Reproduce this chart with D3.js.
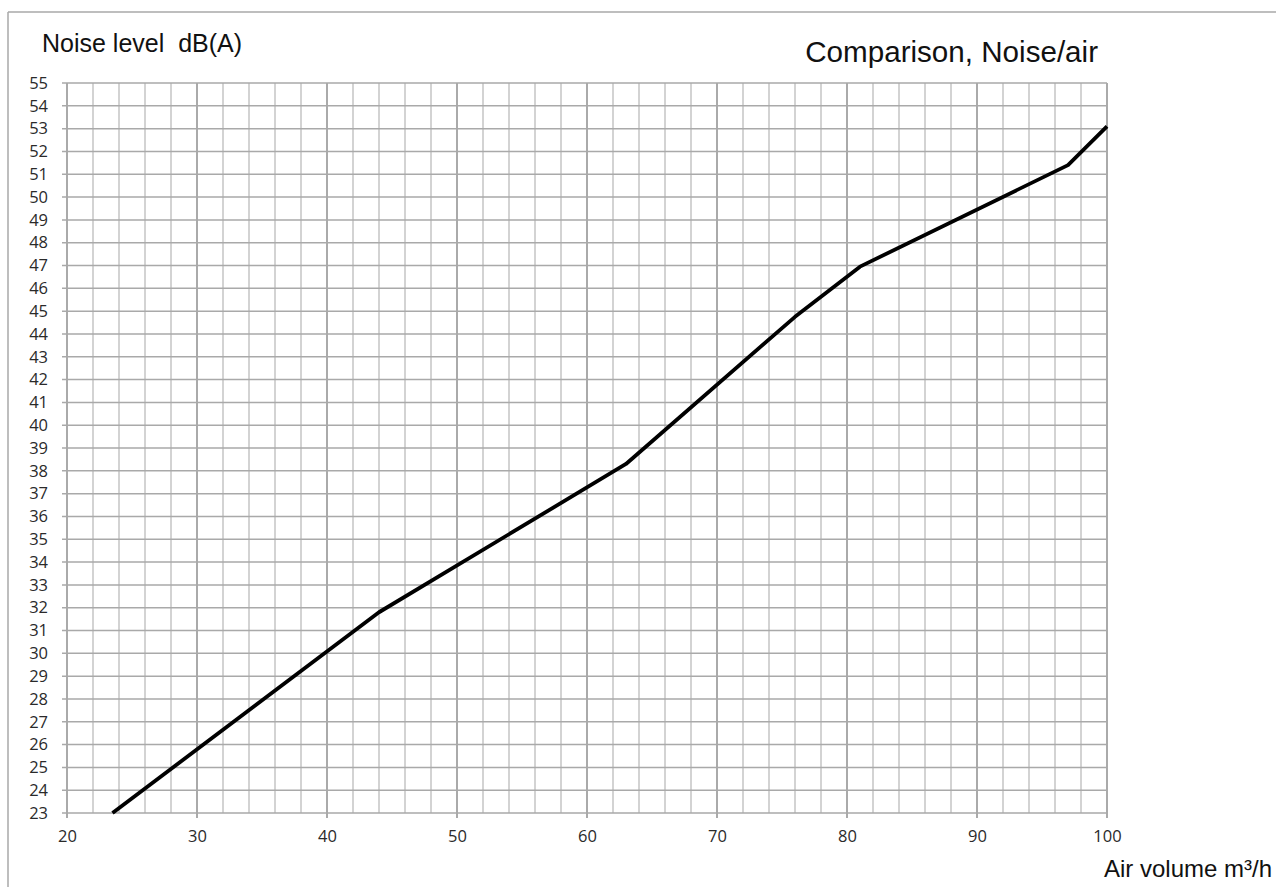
<!DOCTYPE html>
<html>
<head>
<meta charset="utf-8">
<script src="https://cdn.jsdelivr.net/npm/d3@7"></script>
<style>
  html, body { margin: 0; padding: 0; background: #fff; }
  svg { display: block; }
  .tick text { font-family: "Open Sans", sans-serif; font-size: 16.5px; fill: #2a2a2a; }
  .title { font-family: "Liberation Sans", Arial, sans-serif; fill: #111; white-space: pre; }
</style>
</head>
<body>
<div id="chart"></div>
<script>
// data
var airVolume = [23.5, 44, 63, 76, 81, 97, 100];
var noiseLevel = [23, 31.8, 38.3, 44.75, 46.95, 51.4, 53.1];
var xTicks = [20, 30, 40, 50, 60, 70, 80, 90, 100];
var yTicks = d3.range(23, 56, 1);

var NoiseChart = function(domSelection) {
    var width = 1276;
    var height = 887;
    var plotLeft = 67, plotRight = 1107, plotTop = 83, plotBottom = 813;

    var svg = d3.select(domSelection)
        .append("svg")
        .attr("width", width)
        .attr("height", height);

    var x = d3.scaleLinear().domain([20, 100]).range([plotLeft, plotRight]);
    var y = d3.scaleLinear().domain([23, 55]).range([plotBottom, plotTop]);

    // outer frame (top and left edges only)
    svg.append("line")
        .attr("x1", 8).attr("y1", 12).attr("x2", width).attr("y2", 12)
        .attr("stroke", "#a8a8a8").attr("stroke-width", 1.5);
    svg.append("line")
        .attr("x1", 8).attr("y1", 12).attr("x2", 8).attr("y2", height)
        .attr("stroke", "#a8a8a8").attr("stroke-width", 1.5);

    var grid = svg.append("g");

    // vertical grid, minor every 2, major every 10 (with small tick below)
    grid.selectAll(".vgrid")
        .data(d3.range(20, 101, 2))
        .enter()
        .append("line")
        .attr("class", "vgrid")
        .attr("x1", d => x(d)).attr("x2", d => x(d))
        .attr("y1", plotTop)
        .attr("y2", d => d % 10 === 0 ? plotBottom + 5 : plotBottom)
        .attr("stroke", d => d % 10 === 0 ? "#8e8e8e" : "#c4c4c4")
        .attr("stroke-width", 1.5);

    // horizontal grid every 1 dB, starting a little left of the plot
    grid.selectAll(".hgrid")
        .data(yTicks)
        .enter()
        .append("line")
        .attr("class", "hgrid")
        .attr("x1", plotLeft - 5).attr("x2", plotRight)
        .attr("y1", d => y(d)).attr("y2", d => y(d))
        .attr("stroke", "#a9a9a9")
        .attr("stroke-width", 1.5);

    // tick labels via axes
    var yAxis = svg.append("g")
        .attr("transform", "translate(" + (plotLeft - 19) + ",0)")
        .call(d3.axisLeft(y).tickValues(yTicks).tickSize(0).tickPadding(0).tickFormat(d3.format("d")));
    yAxis.select(".domain").remove();

    var xAxis = svg.append("g")
        .attr("transform", "translate(0," + (plotBottom + 17) + ")")
        .call(d3.axisBottom(x).tickValues(xTicks).tickSize(0).tickPadding(0).tickFormat(d3.format("d")));
    xAxis.select(".domain").remove();

    // the curve
    var line = d3.line()
        .x((d, i) => x(airVolume[i]))
        .y(d => y(d));

    svg.append("path")
        .datum(noiseLevel)
        .attr("d", line)
        .attr("fill", "none")
        .attr("stroke", "#000")
        .attr("stroke-width", 3.8)
        .attr("stroke-linejoin", "round");

    // titles
    svg.append("text")
        .attr("class", "title")
        .attr("x", 42).attr("y", 52)
        .style("font-size", "25px")
        .text("Noise level  dB(A)");

    svg.append("text")
        .attr("class", "title")
        .attr("x", 1098).attr("y", 62)
        .style("font-size", "29.6px")
        .style("text-anchor", "end")
        .text("Comparison, Noise/air");

    svg.append("text")
        .attr("class", "title")
        .attr("x", 1272).attr("y", 877)
        .style("font-size", "24px")
        .style("text-anchor", "end")
        .text("Air volume m³/h");
};

new NoiseChart("#chart");
</script>
</body>
</html>
